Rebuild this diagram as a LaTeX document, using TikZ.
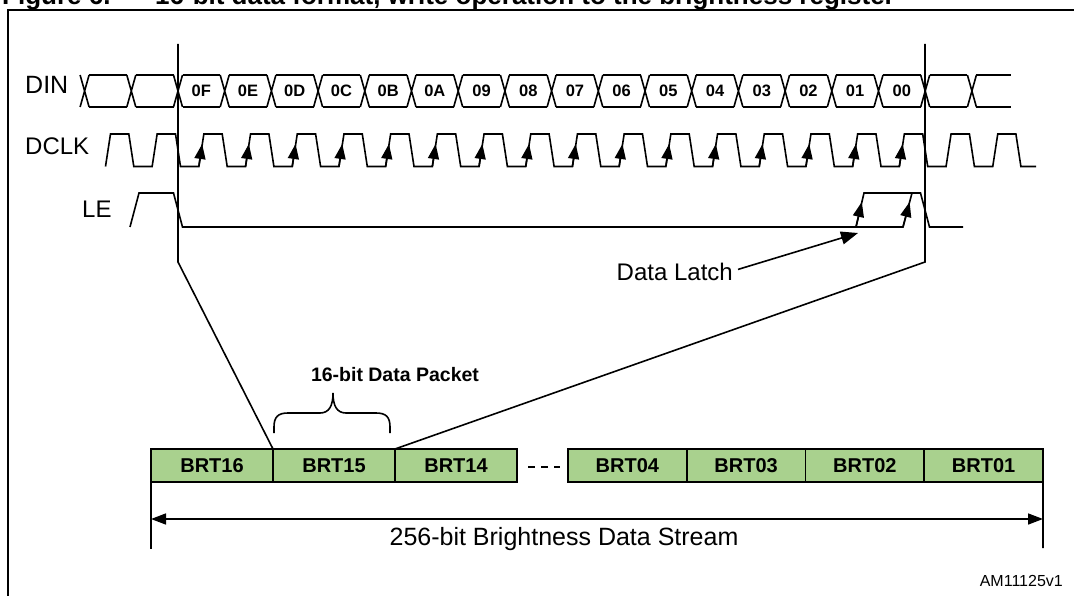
\documentclass[tikz,border=0pt]{standalone}
\usepackage{fontspec}
\setmainfont{Liberation Sans}
\usetikzlibrary{arrows.meta,calc}
\definecolor{brtgreen}{RGB}{169,209,142}
\begin{document}
\begin{tikzpicture}[x=1pt,y=-1pt,
  wave/.style={line width=1.6pt},
  siglbl/.style={font=\fontsize{24}{28}\selectfont, anchor=base west, inner sep=0pt},
  hexlbl/.style={font=\bfseries\fontsize{16.5}{19}\selectfont, inner sep=0pt},
  brtbox/.style={draw=black, line width=1.6pt, fill=brtgreen, minimum height=33pt, inner sep=0pt, outer sep=0pt, font=\bfseries\fontsize{20}{24}\selectfont},
  edgetip/.style={-{Triangle[length=15pt,width=11pt]}, line width=1.6pt},
  dimtip/.style={{Triangle[length=15pt,width=11pt]}-{Triangle[length=15pt,width=11pt]}, line width=1.6pt},
  titlefont/.style={font=\bfseries\fontsize{26}{30}\selectfont, anchor=base west, inner sep=0pt},
]
\useasboundingbox (0,0) rectangle (1074,596);
\clip (0,0) rectangle (1074,596);

% title (cut at the top) and frame
\node[titlefont] (fig) at (2,5) {Figure 6.};
\node[titlefont] (title) at (155,5) {16-bit data format, write operation to the brightness register};
\draw[line width=2.5pt] (8,605) -- (8,10) -- (1085,10);

% signal names
\node[siglbl, font=\fontsize{25}{30}\selectfont] (din) at (25,94) {DIN};
\node[siglbl] (dclk) at (25,155) {DCLK};
\node[siglbl] (le) at (82,218) {LE};

% DIN bus
\foreach \k in {-2,...,17} {
  \pgfmathsetmacro\c{178+46.7*\k}
  \draw[wave] ({\c-4.5},75) -- ({\c+4.5},107) ({\c-4.5},107) -- ({\c+4.5},75);
}
\foreach \k in {-2,...,16} {
  \pgfmathsetmacro\c{178+46.7*\k}
  \draw[wave] ({\c+4.5},75) -- ({\c+42.2},75) ({\c+4.5},107) -- ({\c+42.2},107);
}
\draw[wave] (976.2,75) -- (1011,75) (976.2,107) -- (1011,107);
\foreach \t [count=\i from 0] in {0F,0E,0D,0C,0B,0A,09,08,07,06,05,04,03,02,01,00}
  \node[hexlbl] (d\t) at ({178+46.7*\i+23.35},91) {\t};

% DCLK
\draw[wave] (105.5,166.5) -- (110.5,134)
  \foreach \k in {-1,...,17} { -- ({178+46.7*\k-2.5},134) -- ({178+46.7*\k+2.5},166.5) -- ({178+46.7*\k+20.85},166.5) -- ({178+46.7*\k+25.85},134) }
  -- (1015.9,134) -- (1020.9,166.5) -- (1036,166.5);
\foreach \k in {0,...,15} {
  \pgfmathsetmacro\r{178+46.7*\k+23.35}
  \draw[edgetip] ({\r-2.5},166.5) -- ({\r+0.8},144);
}

% LE
\draw[wave] (130,227) -- (139,193) -- (173.5,193) -- (182.5,227) -- (903,227) -- (912,193);
\draw[wave] (856,227) -- (864,193) -- (920.5,193) -- (929.5,227) -- (963,227);
\draw[edgetip] (856,227) -- (861.8,202);
\draw[edgetip] (903,227) -- (909.6,202);

% packet boundary lines
\coordinate (vlt) at (178,44);
\coordinate (vlb) at (178,262);
\coordinate (vrt) at (925,44);
\coordinate (vrb) at (925,262);

% brightness boxes
\node[brtbox, minimum width=122pt] (b16) at (212,465.5) {BRT16};
\node[brtbox, minimum width=122pt] (b15) at (334,465.5) {BRT15};
\node[brtbox, minimum width=122pt] (b14) at (456,465.5) {BRT14};
\node[brtbox, minimum width=118.75pt] (b04) at (627.4,465.5) {BRT04};
\node[brtbox, minimum width=118.75pt] (b03) at (746.1,465.5) {BRT03};
\node[brtbox, minimum width=118.75pt] (b02) at (864.9,465.5) {BRT02};
\node[brtbox, minimum width=118.75pt] (b01) at (983.6,465.5) {BRT01};

\draw[wave] (vlt) -- (vlb) -- (b15.north west);
\draw[wave] (vrt) -- (vrb) -- (b15.north east);

% brace and packet label
\draw[wave] (274,433) -- (274,427) .. controls (274,417) and (278,413) .. (288,413) -- (320,413)
  .. controls (329,413) and (333,406) .. (333,393) .. controls (333,406) and (337,413) .. (346,413)
  -- (376,413) .. controls (386,413) and (390,417) .. (390,427) -- (390,433);
\node[font=\bfseries\fontsize{19.5}{23}\selectfont, anchor=base, inner sep=0pt] (pkt) at (395,381) {16-bit Data Packet};

% dashes between groups
\draw[wave, dash pattern=on 7pt off 6pt] ($(b14.east)+(11,1.5)$) -- ($(b04.west)+(-8,1.5)$);

% dimension
\coordinate (dl) at (151,549);
\coordinate (dr) at (1043,548);
\draw[wave] (b16.south west) -- (dl);
\draw[wave] (b01.south east) -- (dr);
\draw[dimtip] (151,519) -- (1043,519);
\node[font=\fontsize{25}{30}\selectfont, anchor=base, inner sep=0pt] (stream) at (564,545) {256-bit Brightness Data Stream};

% data latch annotation
\node[font=\fontsize{24}{28}\selectfont, anchor=base east, inner sep=0pt] (latch) at (733,280) {Data Latch};
\coordinate (latchtip) at (858,233);
\draw[line width=1.6pt, -{Triangle[length=17pt,width=13pt]}] ($(latch.east)+(5,-2)$) -- (latchtip);

\node[font=\fontsize{16}{19}\selectfont, anchor=base east, inner sep=0pt] (am) at (1063,586) {AM11125v1};
\end{tikzpicture}
\end{document}
